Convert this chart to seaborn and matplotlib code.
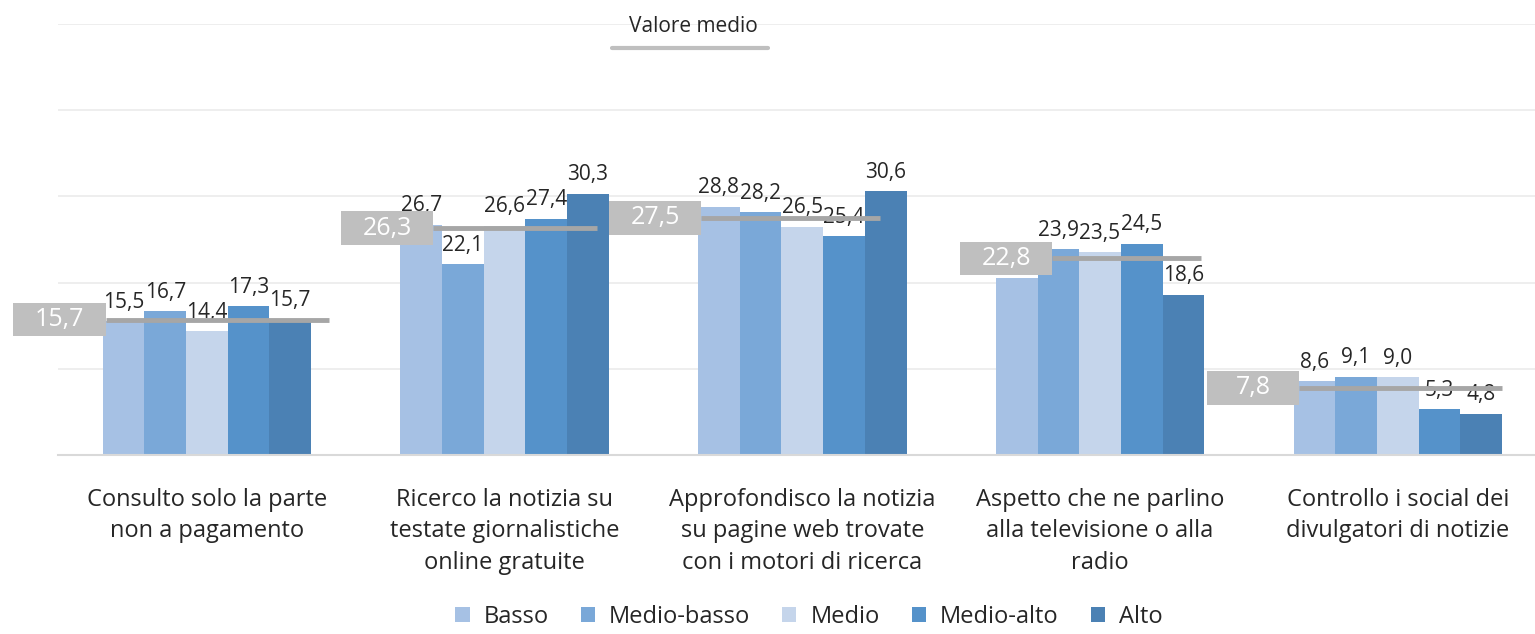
import pandas as pd
import matplotlib.pyplot as plt
import seaborn as sns
from matplotlib.lines import Line2D
from matplotlib.patches import Patch, Rectangle

# Data
categories = [
    "Consulto solo la parte\nnon a pagamento",
    "Ricerco la notizia su\ntestate giornalistiche\nonline gratuite",
    "Approfondisco la notizia\nsu pagine web trovate\ncon i motori di ricerca",
    "Aspetto che ne parlino\nalla televisione o alla\nradio",
    "Controllo i social dei\ndivulgatori di notizie",
]
levels = ["Basso", "Medio-basso", "Medio", "Medio-alto", "Alto"]
basso = [15.5, 26.7, 28.8, 20.5, 8.6]
medio_basso = [16.7, 22.1, 28.2, 23.9, 9.1]
medio = [14.4, 26.6, 26.5, 23.5, 9.0]
medio_alto = [17.3, 27.4, 25.4, 24.5, 5.3]
alto = [15.7, 30.3, 30.6, 18.6, 4.8]
valore_medio = [15.7, 26.3, 27.5, 22.8, 7.8]

colors = ["#A6C1E4", "#7AA8D8", "#C5D5EB", "#5592CA", "#4B81B4"]

# layout of the mean line segments (offsets from group centre), as in the original
line_start = [-0.34, -0.24, -0.34, -0.16, -0.33]
line_end = [0.41, 0.31, 0.26, 0.34, 0.35]

series = [basso, medio_basso, medio, medio_alto, alto]
rows = []
for lev, vals in zip(levels, series):
    for cat, v in zip(categories, vals):
        rows.append({"cat": cat, "level": lev, "value": v})
df = pd.DataFrame(rows)

sns.set_style("white")
plt.rcParams["font.family"] = ["Open Sans", "DejaVu Sans"]

fig = plt.figure(figsize=(15.35, 6.34), dpi=100)
ax = fig.add_axes([0.0378, 0.2823, 0.962, 0.68])

sns.barplot(data=df, x="cat", y="value", hue="level", hue_order=levels,
            order=categories, palette=colors, width=0.7, gap=0,
            saturation=1, ax=ax, legend=False, errorbar=None, linewidth=0)

ax.set_xlim(-0.5, 4.46)
ax.set_ylim(0, 50)
ax.set_yticks([10, 20, 30, 40, 50])
ax.yaxis.grid(True, color="#EBEBEB", linewidth=1.2)
ax.set_axisbelow(True)
ax.tick_params(axis="y", left=False, labelleft=False)
ax.tick_params(axis="x", bottom=False, labelsize=17, pad=20, colors="#262626")
for lbl in ax.get_xticklabels():
    lbl.set_linespacing(1.42)
for s in ["top", "right", "left"]:
    ax.spines[s].set_visible(False)
ax.spines["bottom"].set_color("#D9D9D9")
ax.spines["bottom"].set_linewidth(1.5)
ax.set_xlabel("")
ax.set_ylabel("")

# value labels on bars
for cont in ax.containers:
    labels = [f"{b.get_height():.1f}".replace(".", ",") for b in cont]
    ax.bar_label(cont, labels=labels, padding=6, fontsize=15, color="#262626")

# mean lines and grey label boxes
box_w, box_h = 0.31, 3.9
for i, m in enumerate(valore_medio):
    x0, x1 = i + line_start[i], i + line_end[i]
    ax.plot([x0, x1], [m, m], color="#A6A6A6", linewidth=3.5,
            solid_capstyle="butt", zorder=4)
    ax.add_patch(Rectangle((x0 - box_w, m - box_h / 2), box_w, box_h,
                           facecolor="#BFBFBF", edgecolor="none", zorder=5,
                           clip_on=False))
    ax.text(x0 - box_w / 2, m, f"{m:.1f}".replace(".", ","),
            ha="center", va="center", fontsize=18, color="white", zorder=6)

# top legend "Valore medio"
fig.text(0.452, 0.958, "Valore medio", ha="center", va="center",
         fontsize=15, color="#262626")
fig.add_artist(Line2D([0.399, 0.5], [0.924, 0.924], color="#BFBFBF",
                      linewidth=3, transform=fig.transFigure))

# bottom legend
handles = [Patch(facecolor=c, edgecolor="none") for c in colors]
fig.legend(handles, levels, loc="lower center", ncol=5, frameon=False,
           fontsize=17, bbox_to_anchor=(0.527, -0.026), handlelength=0.6,
           handleheight=0.6, handletextpad=0.6, columnspacing=1.35,
           labelcolor="#262626")

plt.savefig("out.png", dpi=100)
